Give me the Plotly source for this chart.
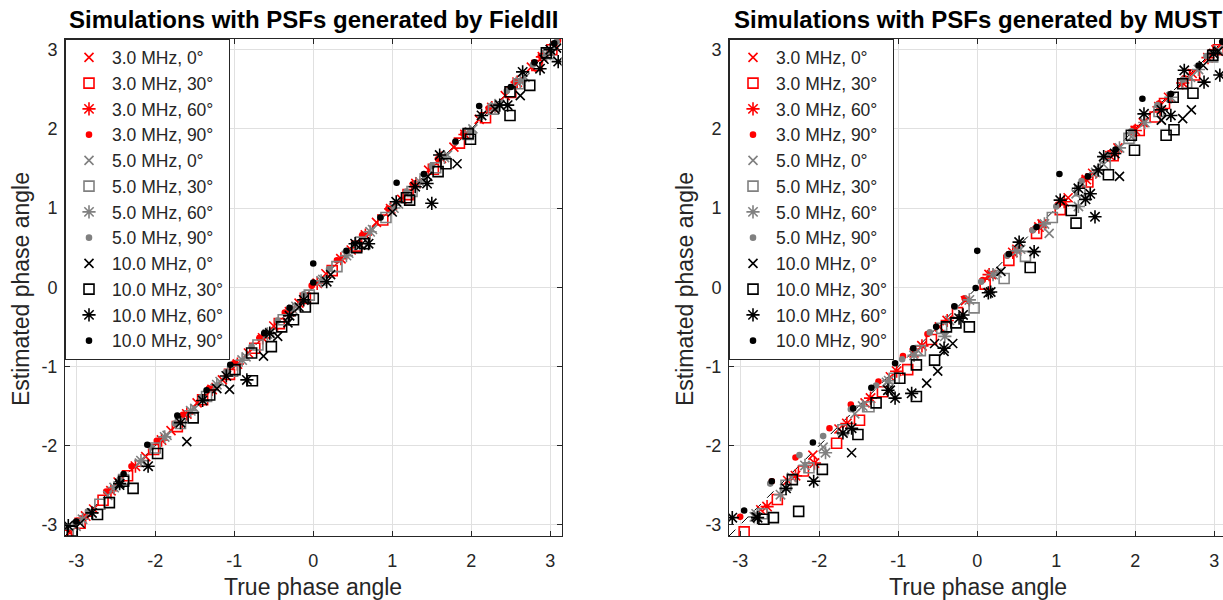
import numpy as np
import plotly.graph_objects as go

# ---- FieldII panel: (true phase, estimated phase) per series ----
fld_3_0 = ([-3.08, -2.78, -2.47, -2.12, -1.80, -1.47, -1.15, -0.82, -0.50, -0.18, 0.16, 0.48, 0.80, 1.12, 1.46, 1.78, 2.10, 2.43, 2.76, 3.06],
           [-3.10, -2.80, -2.46, -2.14, -1.81, -1.46, -1.17, -0.83, -0.49, -0.20, 0.17, 0.47, 0.82, 1.11, 1.48, 1.77, 2.12, 2.42, 2.78, 3.05])
fld_3_30 = ([-3.12, -2.95, -2.66, -2.35, -2.02, -1.72, -1.40, -1.06, -0.74, -0.43, -0.10, 0.24, 0.55, 0.88, 1.20, 1.52, 1.85, 2.18, 2.50, 2.83, 3.02],
            [-3.13, -2.98, -2.69, -2.38, -2.05, -1.76, -1.42, -1.10, -0.77, -0.46, -0.14, 0.21, 0.52, 0.85, 1.17, 1.49, 1.82, 2.14, 2.46, 2.80, 3.00])
fld_3_60 = ([-2.88, -2.56, -2.25, -1.92, -1.60, -1.28, -0.96, -0.64, -0.30, 0.05, 0.35, 0.66, 0.98, 1.30, 1.62, 1.92, 2.26, 2.58, 2.90],
            [-2.89, -2.57, -2.26, -1.93, -1.60, -1.29, -0.97, -0.64, -0.31, 0.05, 0.36, 0.66, 0.99, 1.31, 1.63, 1.93, 2.27, 2.59, 2.91])
fld_3_90 = ([-2.98, -2.62, -2.30, -1.98, -1.65, -1.32, -1.00, -0.68, -0.36, -0.02, 0.30, 0.62, 0.95, 1.26, 1.58, 1.90, 2.22, 2.55, 2.88, 3.10],
            [-2.95, -2.58, -2.26, -1.94, -1.61, -1.28, -0.96, -0.64, -0.32, 0.02, 0.34, 0.66, 0.99, 1.30, 1.62, 1.94, 2.26, 2.59, 2.92, 3.12])
fld_5_0 = ([-3.00, -2.60, -2.20, -1.85, -1.50, -1.18, -0.85, -0.55, -0.22, 0.12, 0.45, 0.75, 1.08, 1.40, 1.70, 2.02, 2.35, 2.68, 3.00],
           [-3.02, -2.63, -2.22, -1.87, -1.53, -1.19, -0.88, -0.57, -0.24, 0.10, 0.43, 0.73, 1.05, 1.38, 1.67, 2.00, 2.32, 2.65, 2.98])
fld_5_30 = ([-3.10, -2.70, -2.40, -2.00, -1.68, -1.35, -1.02, -0.70, -0.38, -0.05, 0.30, 0.60, 0.92, 1.25, 1.55, 1.96, 2.28, 2.60, 2.98],
            [-3.12, -2.74, -2.43, -2.03, -1.72, -1.38, -1.06, -0.73, -0.41, -0.10, 0.26, 0.57, 0.88, 1.21, 1.51, 1.93, 2.25, 2.57, 2.95])
fld_5_60 = ([-2.92, -2.52, -2.18, -1.88, -1.55, -1.22, -0.90, -0.58, -0.26, 0.10, 0.42, 0.72, 1.02, 1.35, 1.66, 1.98, 2.30, 2.62, 2.95],
            [-2.93, -2.53, -2.19, -1.89, -1.56, -1.23, -0.92, -0.59, -0.28, 0.08, 0.40, 0.70, 1.00, 1.33, 1.64, 1.96, 2.28, 2.60, 2.93])
fld_5_90 = ([-2.85, -2.45, -2.05, -1.75, -1.42, -1.10, -0.78, -0.45, -0.12, 0.20, 0.52, 0.85, 1.18, 1.50, 1.80, 2.12, 2.45, 2.78, 3.08],
            [-2.83, -2.43, -2.02, -1.72, -1.39, -1.07, -0.75, -0.42, -0.09, 0.23, 0.55, 0.88, 1.21, 1.53, 1.83, 2.15, 2.48, 2.81, 3.10])
fld_10_0 = ([-2.95, -2.45, -1.60, -1.22, -1.06, -0.63, -0.45, -0.32, -0.18, 0.22, 0.60, 1.00, 1.45, 1.82, 2.30, 2.62, 2.92, 3.08],
            [-2.98, -2.50, -1.95, -1.28, -1.29, -0.87, -0.62, -0.45, -0.25, 0.16, 0.53, 0.95, 1.40, 1.56, 2.25, 2.42, 2.88, 3.02])
fld_10_30 = ([-3.05, -2.73, -2.58, -2.40, -2.28, -1.97, -1.52, -1.31, -0.99, -0.78, -0.77, -0.53, -0.40, -0.25, -0.10, 0.00, 0.55, 0.65, 1.18, 1.22, 1.58, 1.68, 1.96, 1.99, 2.49, 2.49, 2.74, 2.95],
             [-3.08, -2.87, -2.72, -2.45, -2.54, -2.10, -1.65, -1.36, -1.04, -0.83, -1.18, -0.75, -0.50, -0.41, -0.25, -0.14, 0.50, 0.55, 1.13, 1.10, 1.46, 1.56, 1.94, 1.87, 2.17, 2.47, 2.55, 2.96])
fld_10_60 = ([-3.10, -2.80, -2.45, -2.09, -1.68, -1.40, -1.10, -0.84, -0.55, -0.30, -0.12, 0.17, 0.53, 0.70, 1.05, 1.29, 1.44, 1.50, 1.60, 2.13, 2.36, 2.46, 2.65, 2.87, 3.00, 3.10],
             [-3.01, -2.85, -2.48, -2.26, -1.71, -1.43, -1.12, -1.17, -0.58, -0.36, -0.16, 0.07, 0.55, 0.55, 1.08, 1.27, 1.31, 1.06, 1.67, 2.17, 2.30, 2.30, 2.72, 2.76, 3.00, 2.85])
fld_10_90 = ([-3.00, -2.40, -2.10, -1.72, -1.35, -1.05, -0.62, -0.30, 0.00, 0.00, 0.42, 0.85, 1.055, 1.40, 1.80, 2.10, 2.50, 2.80, 3.05],
             [-2.96, -2.36, -1.99, -1.62, -1.30, -0.98, -0.58, -0.26, 0.30, 0.06, 0.46, 0.88, 1.32, 1.43, 1.84, 2.29, 2.53, 2.84, 3.08])

# ---- MUST panel ----
must_3_0 = ([-2.74, -2.40, -2.08, -1.75, -1.42, -1.10, -0.80, -0.48, -0.15, 0.18, 0.50, 0.82, 1.15, 1.46, 1.78, 2.10, 2.42, 2.72, 3.02],
            [-2.81, -2.44, -2.12, -1.79, -1.46, -1.13, -0.83, -0.50, -0.17, 0.16, 0.48, 0.80, 1.13, 1.44, 1.76, 2.08, 2.40, 2.70, 3.00])
must_3_30 = ([-2.95, -2.53, -2.20, -1.78, -1.49, -1.20, -0.88, -0.58, -0.25, 0.10, 0.40, 0.75, 1.05, 1.40, 1.72, 2.05, 2.25, 2.37, 2.75, 3.05],
             [-3.09, -2.68, -2.32, -1.97, -1.68, -1.32, -1.04, -0.66, -0.32, 0.04, 0.34, 0.68, 0.98, 1.33, 1.66, 1.98, 2.15, 2.32, 2.68, 3.00])
must_3_60 = ([-2.66, -2.30, -2.06, -1.65, -1.35, -1.02, -0.70, -0.38, 0.15, 0.45, 0.78, 1.10, 1.38, 1.68, 2.00, 2.30, 2.60, 2.92],
             [-2.77, -2.38, -2.22, -1.72, -1.40, -1.06, -0.74, -0.42, 0.16, 0.44, 0.76, 1.08, 1.36, 1.66, 1.98, 2.28, 2.58, 2.90])
must_3_90 = ([-3.00, -2.60, -2.30, -1.87, -1.60, -1.25, -0.94, -0.63, -0.16, 0.07, 0.38, 0.70, 1.02, 1.35, 1.65, 1.98, 2.30, 2.62, 2.95],
             [-2.90, -2.45, -2.15, -1.78, -1.48, -1.19, -0.87, -0.59, -0.14, 0.09, 0.40, 0.72, 1.04, 1.37, 1.67, 2.00, 2.32, 2.64, 2.97])
must_5_0 = ([-2.80, -2.35, -1.95, -1.55, -1.15, -0.75, -0.35, 0.25, 0.55, 0.91, 1.25, 1.60, 1.95, 2.33, 2.70, 3.05],
            [-2.86, -2.40, -2.02, -1.60, -1.20, -0.80, -0.42, 0.18, 0.48, 0.68, 1.18, 1.55, 1.90, 2.11, 2.65, 3.00])
must_5_30 = ([-2.72, -2.42, -2.13, -1.70, -1.37, -1.05, -0.72, -0.45, -0.04, 0.34, 0.61, 0.95, 1.30, 1.62, 1.92, 2.30, 2.65, 2.98],
             [-2.86, -2.50, -2.28, -1.80, -1.51, -1.15, -0.80, -0.52, -0.26, 0.11, 0.39, 0.88, 1.22, 1.55, 1.88, 2.22, 2.58, 2.91])
must_5_60 = ([-2.82, -2.49, -2.18, -1.92, -1.45, -1.12, -0.80, -0.41, -0.10, 0.20, 0.50, 0.85, 1.28, 1.50, 1.80, 2.12, 2.45, 2.80],
             [-2.90, -2.62, -2.25, -2.09, -1.50, -1.18, -0.86, -0.62, -0.16, 0.16, 0.46, 0.80, 1.02, 1.45, 1.76, 2.08, 2.40, 2.75])
must_5_90 = ([-2.62, -2.25, -1.95, -1.60, -1.28, -0.95, -0.60, -0.28, 0.05, 0.38, 0.70, 1.00, 1.32, 1.65, 1.95, 2.28, 2.60, 2.90],
             [-2.48, -2.12, -1.88, -1.54, -1.24, -0.91, -0.57, -0.25, 0.07, 0.40, 0.72, 1.02, 1.34, 1.67, 1.97, 2.30, 2.62, 2.92])
must_10_0 = ([-2.80, -1.59, -1.10, -0.64, -0.50, -0.54, -0.42, -0.31, 0.30, 1.80, 2.33, 2.60, 2.71, 2.86, 3.05],
             [-2.90, -2.09, -1.30, -1.21, -1.06, -0.71, -0.81, -0.71, 0.20, 1.40, 2.11, 2.13, 2.24, 2.80, 2.98])
must_10_30 = ([-2.70, -2.58, -2.26, -2.34, -1.96, -1.51, -1.28, -0.98, -0.77, -0.77, -0.54, -0.39, -0.27, -0.10, 0.67, 1.19, 1.25, 1.66, 1.95, 1.99, 2.39, 2.49, 2.48, 2.60, 2.73, 2.98],
              [-2.93, -2.91, -2.83, -2.43, -2.30, -1.86, -1.46, -1.15, -0.98, -1.38, -0.92, -0.50, -0.45, -0.50, 0.25, 0.97, 0.81, 1.42, 1.92, 1.73, 1.92, 1.99, 2.40, 2.57, 2.45, 2.93])
must_10_60 = ([-3.10, -2.78, -2.42, -2.07, -1.70, -1.59, -1.13, -1.04, -0.83, -0.42, -0.18, -0.23, 0.14, 0.17, 0.53, 0.72, 1.05, 1.28, 1.37, 1.43, 1.49, 1.53, 1.60, 1.74, 2.11, 2.33, 2.45, 2.62, 2.87, 2.99, 3.07],
              [-2.91, -2.91, -2.54, -2.45, -1.84, -1.78, -1.30, -1.40, -1.34, -0.77, -0.35, -0.39, -0.07, -0.06, 0.57, 0.45, 1.10, 1.25, 1.11, 1.18, 0.89, 1.48, 1.65, 1.69, 2.19, 2.24, 2.17, 2.74, 2.59, 2.95, 2.68])
must_10_90 = ([-2.95, -2.60, -2.08, -1.57, -1.34, -1.04, -0.81, -0.52, -0.29, -0.02, 0.00, 0.40, 0.75, 1.04, 1.40, 1.75, 2.09, 2.45, 2.80, 3.10],
              [-2.82, -2.45, -1.96, -1.53, -1.27, -0.96, -0.77, -0.50, -0.24, -0.01, 0.46, 0.42, 0.76, 1.43, 1.40, 1.74, 2.38, 2.44, 2.80, 3.10])

labels = ["3.0 MHz, 0°", "3.0 MHz, 30°", "3.0 MHz, 60°", "3.0 MHz, 90°",
          "5.0 MHz, 0°", "5.0 MHz, 30°", "5.0 MHz, 60°", "5.0 MHz, 90°",
          "10.0 MHz, 0°", "10.0 MHz, 30°", "10.0 MHz, 60°", "10.0 MHz, 90°"]
tick_vals = [-3, -2, -1, 0, 1, 2, 3]
tick_text = ["-3", "-2", "-1", "0", "1", "2", "3"]

fld_series = [fld_3_0, fld_3_30, fld_3_60, fld_3_90, fld_5_0, fld_5_30, fld_5_60, fld_5_90,
              fld_10_0, fld_10_30, fld_10_60, fld_10_90]
must_series = [must_3_0, must_3_30, must_3_60, must_3_90, must_5_0, must_5_30, must_5_60, must_5_90,
               must_10_0, must_10_30, must_10_60, must_10_90]

colors = ["#ff0000"] * 4 + ["#808080"] * 4 + ["#000000"] * 4
symbols = ["x-thin-open", "square-open", "asterisk-open", "circle"] * 3
sizes = [9, 10, 11, 5] * 3

W, H = 1223, 600
FONT = "Liberation Sans, Arial, sans-serif"
INK = "#262626"
lim = np.pi

# pixel geometry of the two axes boxes
px_per_unit = (561.5 - 65) / (2 * lim)
left_box = (65, 561.5)
right_box = (729, W)
top_px, bottom_px = 38.5, 536

fig = go.Figure()


def add_panel(series, xa, ya, legend):
    fig.add_trace(go.Scatter(x=[-lim, lim], y=[-lim, lim], mode="lines",
                             line=dict(color="black", width=1, dash="dash"),
                             showlegend=False, hoverinfo="skip", xaxis=xa, yaxis=ya))
    for i, (xs, ys) in enumerate(series):
        fig.add_trace(go.Scatter(
            x=xs, y=ys, mode="markers", name=labels[i],
            marker=dict(symbol=symbols[i], size=sizes[i], color=colors[i],
                        line=dict(color=colors[i], width=1.6)),
            legend=legend, legendgroup=f"{legend}_{i}",
            xaxis=xa, yaxis=ya))


add_panel(fld_series, "x", "y", "legend")
add_panel(must_series, "x2", "y2", "legend2")

axis_common = dict(
    tickmode="array", tickvals=tick_vals, ticktext=tick_text, ticks="inside", ticklen=5,
    tickcolor=INK, showline=True, linecolor=INK, linewidth=1,
    showgrid=True, gridcolor="#e0e0e0", gridwidth=1, zeroline=False,
    tickfont=dict(family=FONT, size=18, color=INK), automargin=False,
)

ydom = [1 - bottom_px / H, 1 - top_px / H]
right_max = -lim + (right_box[1] - right_box[0]) / px_per_unit

legend_style = dict(y=ydom[1], xanchor="left", yanchor="top",
                    bgcolor="white", bordercolor=INK, borderwidth=1, itemwidth=36,
                    font=dict(family=FONT, size=17.5, color=INK), tracegroupgap=0)

fig.update_layout(
    width=W, height=H,
    margin=dict(l=0, r=0, t=0, b=0),
    paper_bgcolor="white", plot_bgcolor="white",
    font=dict(family=FONT, color=INK),
    xaxis=dict(axis_common, domain=[left_box[0] / W, left_box[1] / W], range=[-lim, lim],
               mirror="ticks", ticklabelstandoff=8, anchor="y"),
    yaxis=dict(axis_common, domain=ydom, range=[-lim, lim], mirror="ticks",
               ticklabelstandoff=3, anchor="x"),
    xaxis2=dict(axis_common, domain=[right_box[0] / W, 1.0], range=[-lim, right_max],
                mirror="ticks", ticklabelstandoff=8, anchor="y2"),
    yaxis2=dict(axis_common, domain=ydom, range=[-lim, lim], mirror=False,
                ticklabelstandoff=3, anchor="x2"),
    legend=dict(legend_style, x=left_box[0] / W),
    legend2=dict(legend_style, x=right_box[0] / W),
    showlegend=True,
)

left_mid = (left_box[0] + left_box[1]) / 2 / W
right_mid = 978 / W

annotations = [
    dict(text="<b>Simulations with PSFs generated by FieldII</b>", x=left_mid, y=1 - 20 / H,
         font=dict(size=24, color="black")),
    dict(text="<b>Simulations with PSFs generated by MUST</b>", x=right_mid, y=1 - 20 / H,
         font=dict(size=24, color="black")),
    dict(text="True phase angle", x=left_mid, y=1 - 587 / H, font=dict(size=23, color=INK)),
    dict(text="True phase angle", x=right_mid, y=1 - 587 / H, font=dict(size=23, color=INK)),
    dict(text="Estimated phase angle", x=21 / W, y=1 - 289 / H, textangle=-90,
         font=dict(size=23, color=INK)),
    dict(text="Estimated phase angle", x=685 / W, y=1 - 289 / H, textangle=-90,
         font=dict(size=23, color=INK)),
]
for a in annotations:
    fig.add_annotation(xref="paper", yref="paper", showarrow=False,
                       xanchor="center", yanchor="middle", **a)

# the page body has a default 8px margin; drop it so the figure fills the window
fig.write_html("out.html", config={"displayModeBar": False},
               post_script="document.body.style.margin='0px';")
